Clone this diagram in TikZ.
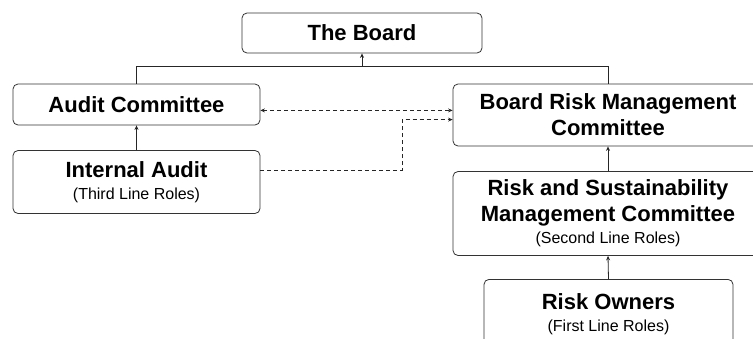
\documentclass[tikz,border=0pt]{standalone}
\usepackage{fontspec}
\setmainfont{Liberation Sans}
\usetikzlibrary{arrows.meta}
\newlength{\titlesize}
\setlength{\titlesize}{22pt}
\newlength{\rolesize}
\setlength{\rolesize}{16pt}
\newcommand{\roles}[1]{{\fontsize{\rolesize}{20pt}\selectfont\mdseries #1}}
\begin{document}
\begin{tikzpicture}[x=1pt,y=-1pt]
  \tikzstyle{unitbox}=[
       draw=black!80,
       line width=0.8pt,
       rounded corners=5pt,
       align=center,
       inner sep=0pt,
       font=\fontsize{\titlesize}{26pt}\selectfont\bfseries]
  \tikzstyle{link}=[black!85, line width=0.8pt]
  \tikzstyle{tip}=[-{Stealth[length=4.5pt,width=4pt]}]
  \tikzstyle{dotlink}=[black!85, line width=0.8pt, dash pattern=on 4pt off 3pt]
  \fill[white] (0,0) rectangle (753,338);
  \clip (0,0) rectangle (753,338);
  \node[unitbox, minimum width=240pt, minimum height=40pt] (board) at (362,33) {The Board};
  \node[unitbox, minimum width=247pt, minimum height=41pt] (audit) at (136.5,104.5) {Audit Committee};
  \node[unitbox, minimum width=247pt, minimum height=63pt] (internal) at (136.5,182)
      {Internal Audit\\[-4pt] \roles{(Third Line Roles)}};
  \node[unitbox, minimum width=310pt, minimum height=62pt] (brmc) at (608,115)
      {Board Risk Management\\ Committee};
  \node[unitbox, minimum width=310pt, minimum height=84pt] (rsmc) at (608,213.5)
      {Risk and Sustainability\\ Management Committee\\[-4pt] \roles{(Second Line Roles)}};
  \node[unitbox, minimum width=249pt, minimum height=70pt, anchor=north] (owners) at (608.5,279)
      {Risk Owners\\[-4pt] \roles{(First Line Roles)}};
  % reporting lines
  \coordinate (join) at (board.south |- 0,66);
  \draw[link] (audit.north) |- (brmc.north |- join) -- (brmc.north);
  \draw[link,tip] (join) -- (board.south);
  \draw[link,tip] (internal.north) -- (audit.south);
  \draw[link,tip] (rsmc.north) -- (brmc.south);
  \draw[link,tip] (owners.north) -- (rsmc.south);
  % dotted lines
  \coordinate (upper) at ([yshift=4.6pt]brmc.west);
  \coordinate (lower) at ([yshift=-4.6pt]brmc.west);
  \draw[dotlink,{Stealth[length=4.5pt,width=4pt]}-{Stealth[length=4.5pt,width=4pt]}]
      (audit.east |- upper) -- (upper);
  \draw[dotlink,tip] ([yshift=11.5pt]internal.east) -| (402,0 |- lower) -- (lower);
\end{tikzpicture}
\end{document}
